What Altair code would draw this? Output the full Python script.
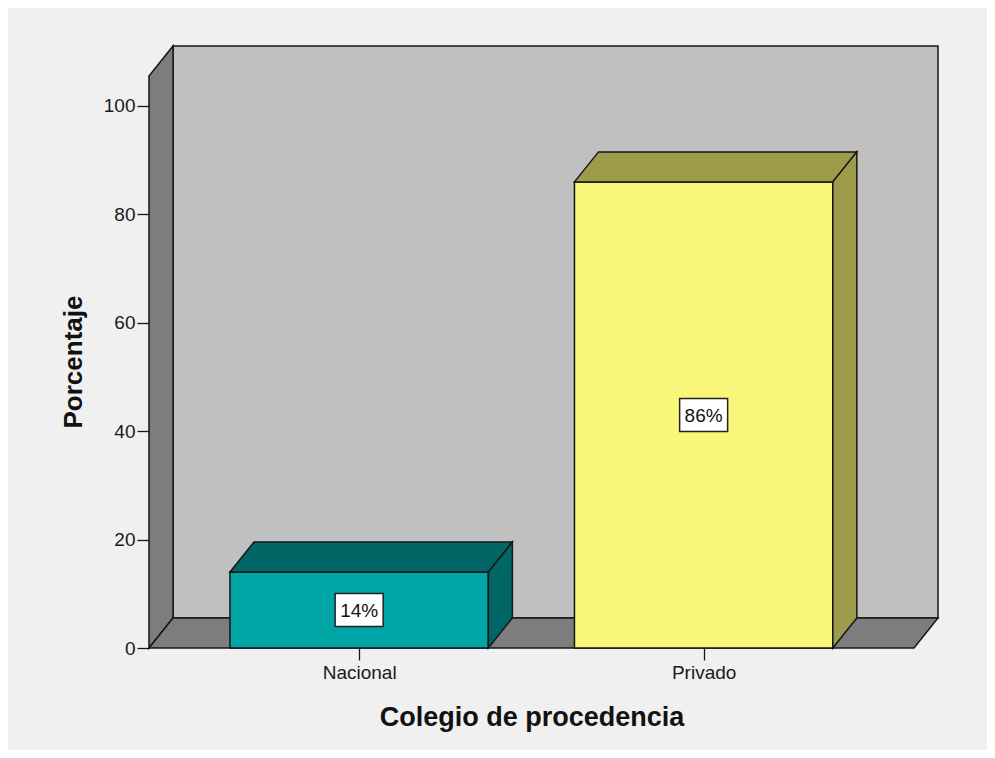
import altair as alt
import pandas as pd

# ---- data -------------------------------------------------------------
categories = ["Nacional", "Privado"]
percent = [14, 86]
label_text = ["14%", "86%"]
y_ticks = [0, 20, 40, 60, 80, 100]

front_fill = ["#00a6a6", "#f9f779"]
shade_fill = ["#006766", "#9d9b49"]

# ---- 3-D style constants ----------------------------------------------
BAR_W = 0.75          # bar width in category units
DX = 0.0697           # depth (x) in category units
DZ = 5.535            # depth (y) in percent units
X0, X1 = -0.61, 1.6106
Y_TOP = 111.07
WALL_TOP = Y_TOP - DZ
WALL_DARK = "#7d7d7d"
WALL_BACK = "#c0c0c0"
EDGE = "#161616"
FONT = "Liberation Sans"

xscale = alt.Scale(domain=[X0, X1 + DX], nice=False, zero=False)
yscale = alt.Scale(domain=[0, Y_TOP], nice=False, zero=False)

# ---- walls ------------------------------------------------------------
back = pd.DataFrame([{"x": X0 + DX, "x2": X1 + DX, "y": DZ, "y2": Y_TOP}])
walls = pd.DataFrame([
    {"poly": "left", "fill": WALL_DARK, "x": X0, "y": 0, "y2": WALL_TOP},
    {"poly": "left", "fill": WALL_DARK, "x": X0 + DX, "y": DZ, "y2": Y_TOP},
    {"poly": "floor", "fill": WALL_DARK, "x": X0, "y": 0, "y2": 0},
    {"poly": "floor", "fill": WALL_DARK, "x": X0 + DX, "y": 0, "y2": DZ},
    {"poly": "floor", "fill": WALL_DARK, "x": X1, "y": 0, "y2": DZ},
    {"poly": "floor", "fill": WALL_DARK, "x": X1 + DX, "y": DZ, "y2": DZ},
])

# ---- bars -------------------------------------------------------------
front_rows, face_rows, label_rows = [], [], []
for i, (cat, v) in enumerate(zip(categories, percent)):
    xa, xb = i - BAR_W / 2, i + BAR_W / 2
    front_rows.append({"cat": cat, "fill": front_fill[i], "x": xa, "x2": xb, "y": 0, "y2": v})
    top = f"top{i}"
    face_rows += [
        {"poly": top, "fill": shade_fill[i], "x": xa, "y": v, "y2": v},
        {"poly": top, "fill": shade_fill[i], "x": xa + DX, "y": v, "y2": v + DZ},
        {"poly": top, "fill": shade_fill[i], "x": xb, "y": v, "y2": v + DZ},
        {"poly": top, "fill": shade_fill[i], "x": xb + DX, "y": v + DZ, "y2": v + DZ},
    ]
    side = f"side{i}"
    face_rows += [
        {"poly": side, "fill": shade_fill[i], "x": xb, "y": 0, "y2": v},
        {"poly": side, "fill": shade_fill[i], "x": xb + DX, "y": DZ, "y2": v + DZ},
    ]
    label_rows.append({"x": i, "y": v / 2, "text": label_text[i]})

fronts = pd.DataFrame(front_rows)
faces = pd.DataFrame(face_rows)
labels = pd.DataFrame(label_rows)

label_expr = " : ".join(
    [f"datum.value == {i} ? '{c}'" for i, c in enumerate(categories[:-1])] + [f"'{categories[-1]}'"]
)

x_axis = alt.Axis(
    values=list(range(len(categories))), labelExpr=label_expr, title="Colegio de procedencia",
    grid=False, domain=False, tickSize=12, tickWidth=1.3, tickColor=EDGE,
    labelFont=FONT, labelFontSize=19, labelColor="#1a1a1a", labelPadding=3,
    titleFont=FONT, titleFontSize=27, titleFontWeight="bold", titleColor="#111",
    titleX=382.5, titleY=77, titleAlign="center", titleBaseline="alphabetic",
)
y_axis = alt.Axis(
    values=y_ticks, title="Porcentaje", grid=False, domain=False,
    tickSize=12, tickWidth=1.3, tickColor=EDGE,
    labelFont=FONT, labelFontSize=19, labelColor="#1a1a1a", labelPadding=2,
    titleFont=FONT, titleFontSize=26, titleFontWeight="bold", titleColor="#111",
    titleAngle=270, titleX=-68, titleY=315.5, titleAlign="center", titleBaseline="alphabetic",
)

back_layer = alt.Chart(back).mark_rect(fill=WALL_BACK, stroke=EDGE, strokeWidth=1.5).encode(
    x=alt.X("x:Q", scale=xscale, axis=x_axis),
    x2="x2:Q",
    y=alt.Y("y:Q", scale=yscale, axis=y_axis),
    y2="y2:Q",
)

wall_layer = alt.Chart(walls).mark_area(stroke=EDGE, strokeWidth=1.5, opacity=1).encode(
    x=alt.X("x:Q", scale=xscale),
    y=alt.Y("y:Q", scale=yscale),
    y2="y2:Q",
    fill=alt.Fill("fill:N", scale=None),
    detail="poly:N",
)

front_layer = alt.Chart(fronts).mark_rect(stroke=EDGE, strokeWidth=1.5).encode(
    x=alt.X("x:Q", scale=xscale),
    x2="x2:Q",
    y=alt.Y("y:Q", scale=yscale),
    y2="y2:Q",
    fill=alt.Fill("fill:N", scale=None),
)

face_layer = alt.Chart(faces).mark_area(stroke=EDGE, strokeWidth=1.5, opacity=1).encode(
    x=alt.X("x:Q", scale=xscale),
    y=alt.Y("y:Q", scale=yscale),
    y2="y2:Q",
    fill=alt.Fill("fill:N", scale=None),
    detail="poly:N",
)

box_layer = alt.Chart(labels).mark_point(
    shape="M-1,-0.6875L1,-0.6875L1,0.6875L-1,0.6875Z", size=2304,
    filled=True, fill="white", stroke="#222", strokeWidth=1.5, opacity=1,
).encode(
    x=alt.X("x:Q", scale=xscale),
    y=alt.Y("y:Q", scale=yscale),
)

text_layer = alt.Chart(labels).mark_text(
    font=FONT, fontSize=19, color="#111", baseline="middle", align="center", dy=1,
).encode(
    x=alt.X("x:Q", scale=xscale),
    y=alt.Y("y:Q", scale=yscale),
    text="text:N",
)

chart = alt.layer(
    back_layer, wall_layer, front_layer, face_layer, box_layer, text_layer
).properties(
    width=789,
    height=602,
    background="#f0f0f0",
    padding={"left": 141, "top": 38, "right": 49, "bottom": 102},
    autosize=alt.AutoSizeParams(type="none"),
).configure_view(stroke=None)

chart.save("out.html", embed_options={"renderer": "svg", "actions": False})
